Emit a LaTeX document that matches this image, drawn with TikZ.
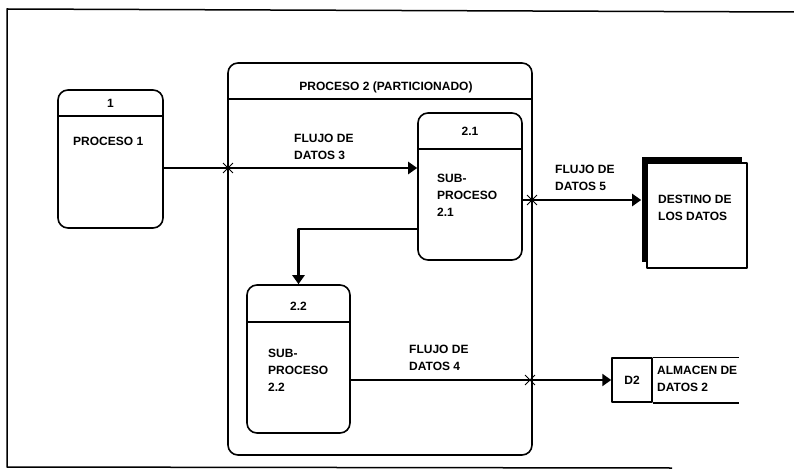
\documentclass[tikz,border=0pt]{standalone}
\usepackage{fontspec}
\setmainfont{Liberation Sans}
\usetikzlibrary{positioning,arrows.meta,shapes.misc,shadows}
\begin{document}
\begin{tikzpicture}[x=1pt, y=-1pt, line join=round,
    proc/.style={draw, line width=1.6pt, rounded corners=10pt, inner sep=0pt},
    sep/.style={line width=1.6pt},
    txt/.style={font=\bfseries\fontsize{12}{17}\selectfont, inner sep=0pt, align=left},
    flow/.style={line width=2.8pt, -{Triangle[length=9pt, width=12pt]}},
    junc/.style={cross out, draw, line width=0.9pt, minimum size=9pt, inner sep=0pt}]
  \useasboundingbox (0,0) rectangle (794,470);
  \draw[line width=1.5pt] (794,12) -- (7,9) -- (7,467) -- (672,468);

  \node[proc, minimum width=105pt, minimum height=138pt] (p1) at (110.5,159) {};
  \draw[sep] ([yshift=-27pt]p1.north west) -- ([yshift=-27pt]p1.north east);
  \node[txt] (p1num) at (p1.north |- 0,103) {1};
  \node[txt, anchor=west] (p1name) at (73,141) {PROCESO 1};

  \node[proc, minimum width=304pt, minimum height=392pt] (p2) at (380,259) {};
  \draw[sep] ([yshift=-37pt]p2.north west) -- ([yshift=-37pt]p2.north east);
  \node[txt] (p2name) at (386,87) {PROCESO 2 (PARTICIONADO)};

  \node[proc, minimum width=104pt, minimum height=147pt] (p21) at (470,186.5) {};
  \draw[sep] ([yshift=-37pt]p21.north west) -- ([yshift=-37pt]p21.north east);
  \node[txt] (p21num) at (p21.north |- 0,131) {2.1};
  \node[txt, anchor=north west] (p21name) at (437,174) {SUB-\\PROCESO\\2.1};

  \node[proc, minimum width=103pt, minimum height=148pt] (p22) at (298.5,359) {};
  \draw[sep] ([yshift=-38pt]p22.north west) -- ([yshift=-38pt]p22.north east);
  \node[txt] (p22num) at (p22.north |- 0,306) {2.2};
  \node[txt, anchor=north west] (p22name) at (268,349) {SUB-\\PROCESO\\2.2};

  \node[draw, line width=1.6pt, fill=white, minimum width=100pt, minimum height=105pt,
    general shadow={fill=black, shadow xshift=-5pt, shadow yshift=6pt}] (dest) at (697,215.5) {};
  \node[txt, anchor=west] (destname) at (658,207.5) {DESTINO DE\\LOS DATOS};

  \node[draw, line width=1.5pt, minimum width=40pt, minimum height=44pt, txt] (d2) at (632,380) {D2};
  \draw[line width=1.5pt] (d2.north east) -- ++(86,0);
  \draw[line width=1.5pt] (d2.south east) -- ++(86,0);
  \node[txt, anchor=west] (d2name) at (657,379) {ALMACEN DE\\DATOS 2};

  \coordinate (j3) at (228,168);
  \coordinate (j5) at (532,200);
  \coordinate (j4) at (530,380);

  \draw[flow] (p1.east |- j3) -- (p21.west |- j3);
  \draw[flow, shorten >=5pt] (p21.east |- j5) -- (dest.west |- j5);
  \draw[flow] (p22.east |- j4) -- (d2.west |- j4);
  \draw[flow] ([yshift=-42.5pt]p21.west) -| (p22.north);

  \node[junc] (j3m) at (j3) {};
  \node[junc] (j5m) at (j5) {};
  \node[junc] (j4m) at (j4) {};

  \node[txt, anchor=west] (f3) at (294,147) {FLUJO DE\\DATOS 3};
  \node[txt, anchor=west] (f5) at (555,178) {FLUJO DE\\DATOS 5};
  \node[txt, anchor=west] (f4) at (409,358) {FLUJO DE\\DATOS 4};
\end{tikzpicture}
\end{document}
